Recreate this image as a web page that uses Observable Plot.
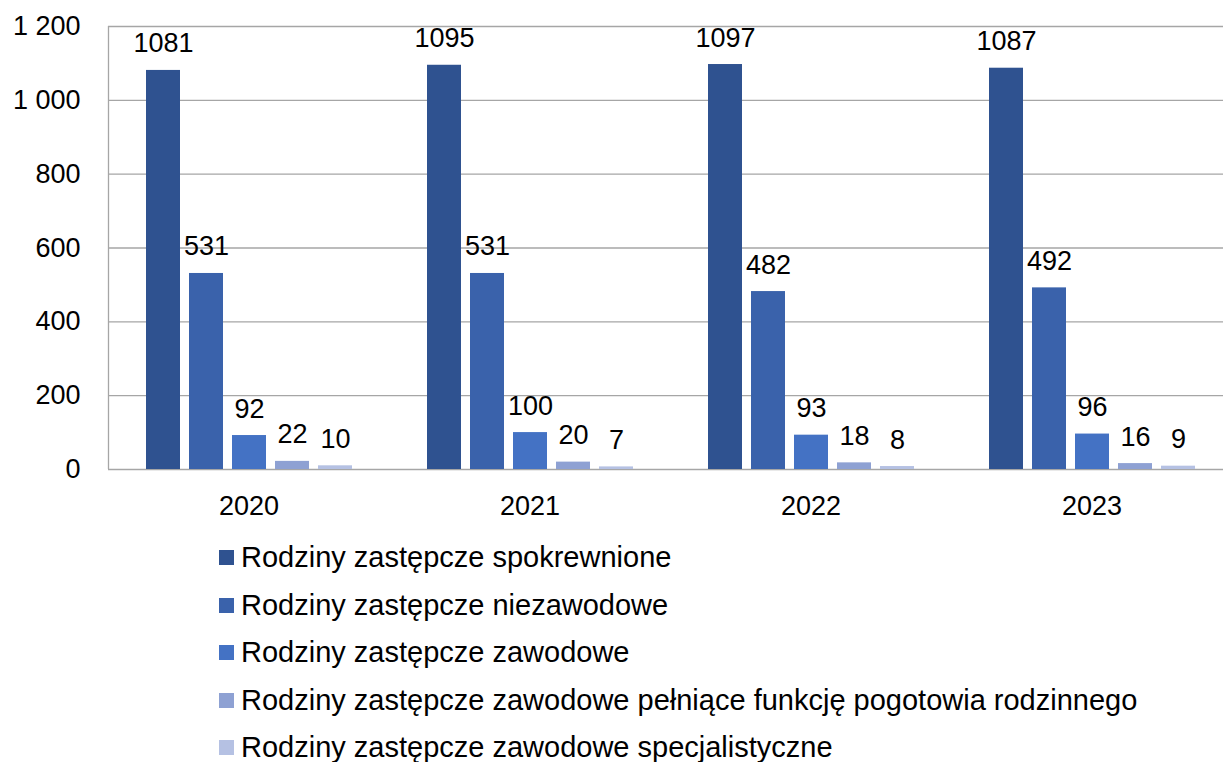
<!DOCTYPE html>
<html>
<head>
<meta charset="utf-8">
<script src="https://cdn.jsdelivr.net/npm/d3@7"></script>
<script src="https://cdn.jsdelivr.net/npm/@observablehq/plot@0.6"></script>
<style>
  html, body { margin: 0; background: #fff; font-family: "Liberation Sans", Arial, sans-serif; overflow: hidden; }
  #chart { width: 1233px; }
  #chart svg { display: block; max-width: none !important; }
  #legend { margin-left: 219px; margin-top: 4px; }
  .row { height: 47.5px; display: flex; align-items: center; font-size: 29px; color: #000; white-space: nowrap; }
  .sw { width: 15px; height: 15px; margin-right: 7px; flex: none; }
</style>
</head>
<body>
<div id="chart"></div>
<div id="legend"></div>
<script>
const years = ["2020", "2021", "2022", "2023"];
const series = [
  "Rodziny zastępcze spokrewnione",
  "Rodziny zastępcze niezawodowe",
  "Rodziny zastępcze zawodowe",
  "Rodziny zastępcze zawodowe pełniące funkcję pogotowia rodzinnego",
  "Rodziny zastępcze zawodowe specjalistyczne"
];
const spokrewnione = [1081, 1095, 1097, 1087];
const niezawodowe = [531, 531, 482, 492];
const zawodowe = [92, 100, 93, 96];
const pogotowie = [22, 20, 18, 16];
const specjalistyczne = [10, 7, 8, 9];
const yTicks = [0, 200, 400, 600, 800, 1000, 1200];
const colors = ["#2F5290", "#3A62AB", "#4472C4", "#8EA1D3", "#B5C1E3"];

const valueLists = [spokrewnione, niezawodowe, zawodowe, pogotowie, specjalistyczne];
const data = [];
years.forEach((yr, i) => {
  series.forEach((s, j) => {
    data.push({ year: yr, series: s, value: valueLists[j][i] });
  });
});

const fmt = v => d3.format(",")(v).replace(/,/g, " ");

const chart = Plot.plot({
  width: 1233,
  height: 530,
  marginLeft: 108,
  marginRight: 1,
  marginTop: 26,
  marginBottom: 61,
  style: { fontFamily: "'Liberation Sans', Arial, sans-serif", background: "#fff", overflow: "hidden", maxWidth: "none" },
  fx: { domain: years, padding: 0, label: null },
  x: { domain: series, paddingInner: 0.213, paddingOuter: 0.859, axis: null },
  y: { domain: [0, 1200], label: null },
  color: { domain: series, range: colors },
  marks: [
    Plot.ruleY(yTicks, { stroke: "#a6a6a6", strokeWidth: 1.3 }),
    Plot.barY(data, { fx: "year", x: "series", y: "value", fill: "series" }),
    Plot.text(data, {
      fx: "year", x: "series", y: "value",
      text: d => String(d.value),
      lineAnchor: "bottom", dy: -18, fontSize: 27, fill: "#000"
    }),
    Plot.axisY(yTicks, { tickSize: 0, tickPadding: 28, fontSize: 27, tickFormat: fmt, label: null, fill: "#000" }),
    Plot.axisFx({ anchor: "bottom", tickSize: 0, tickPadding: 26, fontSize: 27, label: null, fill: "#000" })
  ]
});

document.getElementById("chart").appendChild(chart);

// left axis line at the plot's left edge, from the y scale's range
const yr = chart.scale("y").range;
d3.select(chart).append("line")
  .attr("x1", 108.5).attr("x2", 108.5)
  .attr("y1", yr[1]).attr("y2", yr[0])
  .attr("stroke", "#a6a6a6").attr("stroke-width", 1.3);

const legend = document.getElementById("legend");
series.forEach((s, j) => {
  const row = document.createElement("div");
  row.className = "row";
  const sw = document.createElement("span");
  sw.className = "sw";
  sw.style.background = colors[j];
  const t = document.createElement("span");
  t.textContent = s;
  row.appendChild(sw);
  row.appendChild(t);
  legend.appendChild(row);
});
</script>
</body>
</html>
